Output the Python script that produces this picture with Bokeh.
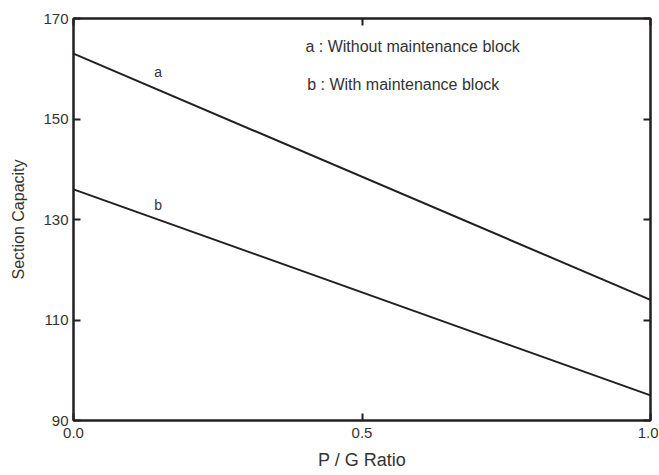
from bokeh.plotting import figure
from bokeh.models import LinearAxis, FixedTicker, Range1d, Label, CustomJSTickFormatter
from bokeh.embed import file_html
from bokeh.resources import INLINE

# data
pg_ratio = [0.0, 1.0]
capacity_a = [163.0, 114.0]
capacity_b = [136.0, 95.0]
x_ticks = [0.0, 0.5, 1.0]
y_ticks = [90, 110, 130, 150, 170]
legend_a = "a : Without maintenance block"
legend_b = "b : With maintenance block"

FONT = "Liberation Sans"
INK = "#231f20"
TXT = "#333333"

p = figure(width=658, height=474, output_backend="svg", toolbar_location=None,
           x_range=Range1d(0, 1.0), y_range=Range1d(90, 170),
           min_border_left=73, min_border_right=8, min_border_top=18, min_border_bottom=54,
           x_axis_label="P / G Ratio", y_axis_label="Section Capacity")
p.grid.visible = False
p.outline_line_color = INK
p.outline_line_width = 2

p.xaxis.ticker = FixedTicker(ticks=x_ticks)
p.yaxis.ticker = FixedTicker(ticks=y_ticks)
p.xaxis.formatter = CustomJSTickFormatter(code="return tick.toFixed(1);")

for ax in [p.xaxis[0], p.yaxis[0]]:
    ax.major_tick_in = 7
    ax.major_tick_out = 0
    ax.minor_tick_line_color = None
    ax.axis_line_color = INK
    ax.axis_line_width = 2
    ax.major_tick_line_color = INK
    ax.major_tick_line_width = 2
    ax.major_label_text_font = FONT
    ax.major_label_text_font_size = "15px"
    ax.major_label_text_color = TXT
    ax.axis_label_text_font = FONT
    ax.axis_label_text_font_style = "normal"
    ax.axis_label_text_color = TXT

p.xaxis.axis_label_text_font_size = "18px"
p.yaxis.axis_label_text_font_size = "16px"
p.xaxis.major_label_standoff = 7
p.yaxis.major_label_standoff = 5
p.xaxis.axis_label_standoff = 9
p.yaxis.axis_label_standoff = 13

for loc, tick in [("right", y_ticks), ("above", x_ticks)]:
    ax = LinearAxis(ticker=FixedTicker(ticks=tick))
    ax.major_label_text_font_size = "0px"
    ax.major_label_text_color = None
    ax.major_tick_in = 7
    ax.major_tick_out = 0
    ax.minor_tick_line_color = None
    ax.axis_line_color = INK
    ax.axis_line_width = 2
    ax.major_tick_line_color = INK
    ax.major_tick_line_width = 2
    ax.major_label_standoff = 0
    p.add_layout(ax, loc)

p.line(pg_ratio, capacity_a, line_color=INK, line_width=2)
p.line(pg_ratio, capacity_b, line_color=INK, line_width=2)

for x, y, t, fs in [(0.14, 159.3, "a", "14px"), (0.14, 132.8, "b", "14px"),
                    (0.402, 164.4, legend_a, "16px"), (0.405, 156.9, legend_b, "16px")]:
    p.add_layout(Label(x=x, y=y, text=t, text_font=FONT, text_font_size=fs,
                       text_color=TXT, text_baseline="middle", text_align="left"))

open("out.html", "w").write(file_html(p, INLINE))
